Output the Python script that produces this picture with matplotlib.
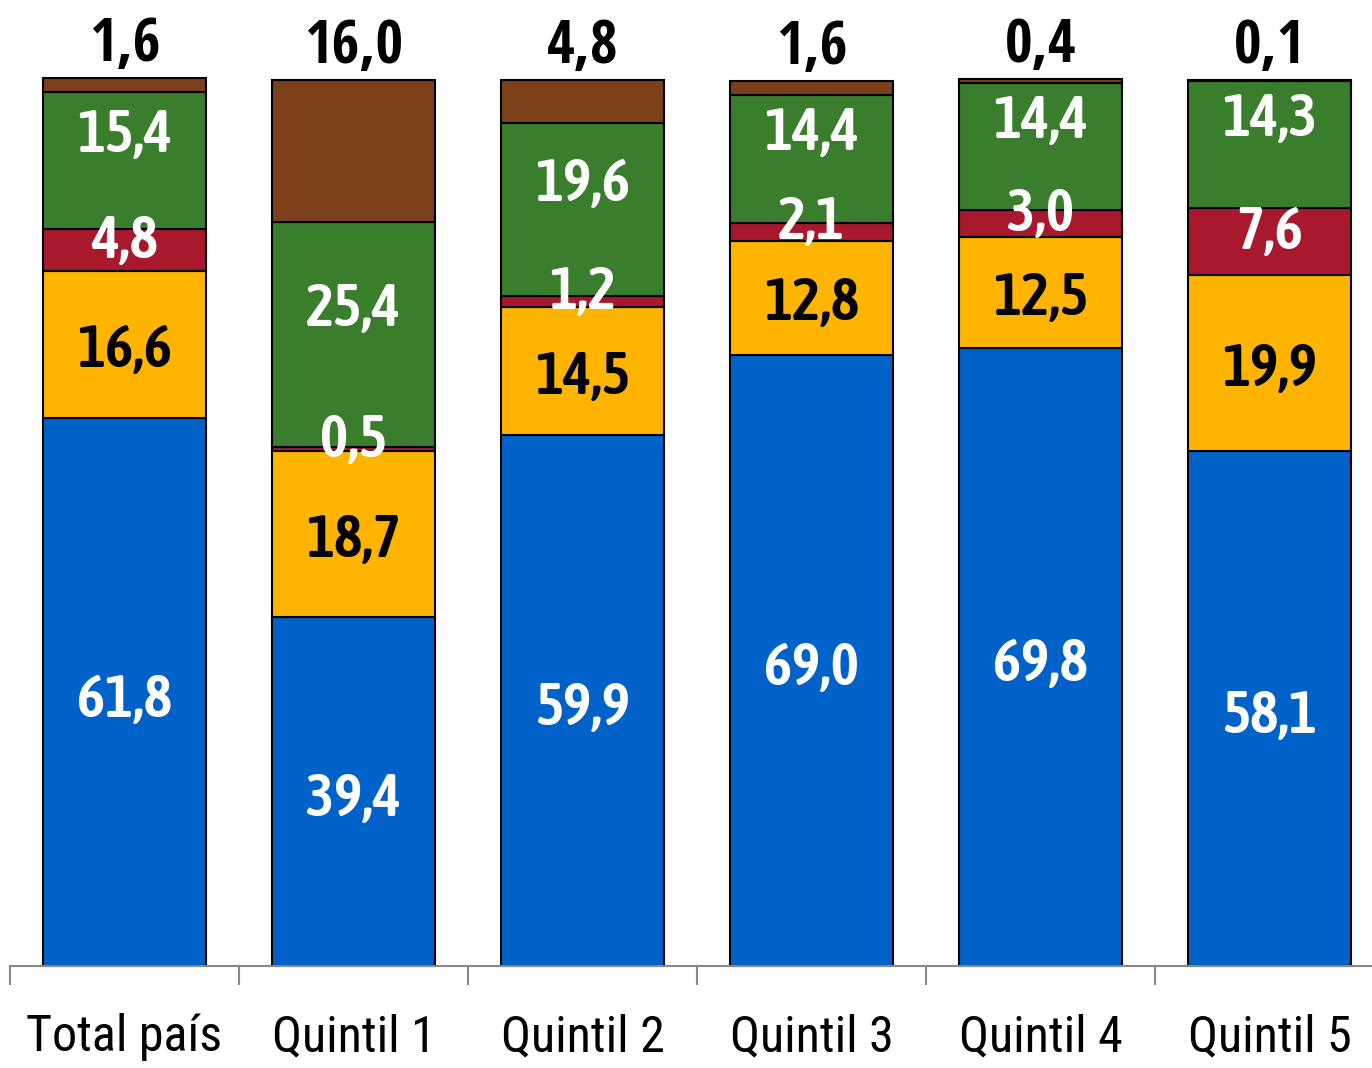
import matplotlib
matplotlib.use("Agg")
import matplotlib.pyplot as plt
from matplotlib import font_manager
from matplotlib.font_manager import FontProperties
import numpy as np

categories = ["Total país", "Quintil 1", "Quintil 2", "Quintil 3", "Quintil 4", "Quintil 5"]
blue = [61.8, 39.4, 59.9, 69.0, 69.8, 58.1]
yellow = [16.6, 18.7, 14.5, 12.8, 12.5, 19.9]
red = [4.8, 0.5, 1.2, 2.1, 3.0, 7.6]
green = [15.4, 25.4, 19.6, 14.4, 14.4, 14.3]
brown = [1.6, 16.0, 4.8, 1.6, 0.4, 0.1]

series = [blue, yellow, red, green, brown]
colors = ["#0062C8", "#FFB400", "#A8192E", "#3A7D2C", "#7B3F1A"]
label_colors = ["white", "black", "white", "white", "black"]
label_dy = [-8, -6, 9, 25, 0]  # pixel upward shift for inside labels

# ---- condensed font selection ----
COND = {"ultra-condensed", "extra-condensed", "condensed", "semi-condensed"}
entries = font_manager.fontManager.ttflist


def is_cond(f):
    s = f.stretch
    if isinstance(s, str):
        if s in COND:
            return True
    else:
        try:
            if float(s) < 100:
                return True
        except Exception:
            pass
    return ("Condensed" in f.name or "Narrow" in f.name
            or "Condensed" in f.fname or "Narrow" in f.fname)


def wnum(w):
    if isinstance(w, (int, float)):
        return float(w)
    return float(font_manager.weight_dict.get(w, 400))


cands = [f for f in entries if is_cond(f) and f.style == "normal"
         and "Mono" not in f.name and "Serif" not in f.name]
pref_order = ["Open Sans", "Noto Sans", "Roboto", "Liberation", "Lato", "Inter", "DejaVu"]


def rank(f):
    for i, p in enumerate(pref_order):
        if f.name.startswith(p):
            return i
    return len(pref_order)


def pick(weight, size):
    if not cands:
        return FontProperties(family="DejaVu Sans", stretch="condensed", weight=weight, size=size)
    best = min(cands, key=lambda f: (abs(wnum(f.weight) - weight), rank(f),
                                     0 if str(f.stretch) == "condensed" else 1))
    return FontProperties(fname=best.fname, size=size)


fp_inside = pick(600, 43)
fp_top = pick(700, 43)
fp_tick = pick(400, 36)

fig = plt.figure(figsize=(13.72, 10.68), dpi=100)
ax = fig.add_axes([10 / 1372, 102 / 1068, 1374 / 1372, 886 / 1068])
x = np.arange(len(categories))
bottom = np.zeros(len(categories))
width = 0.716
for i, (vals, c) in enumerate(zip(series, colors)):
    vals = np.array(vals)
    ax.bar(x, vals, width, bottom=bottom, color=c, edgecolor="black",
           linewidth=1.5, clip_on=False, zorder=2)
    if i < 4:
        for xi, b, v in zip(x, bottom, vals):
            ax.annotate(f"{v:.1f}".replace(".", ","), (xi, b + v / 2),
                        xytext=(0, label_dy[i] * 0.72), textcoords="offset points",
                        ha="center", va="center", color=label_colors[i],
                        fontproperties=fp_inside, zorder=5, annotation_clip=False)
    else:
        for xi, b, v in zip(x, bottom, vals):
            ax.annotate(f"{v:.1f}".replace(".", ","), (xi, b + v),
                        xytext=(0, 2), textcoords="offset points",
                        ha="center", va="bottom", color="black",
                        fontproperties=fp_top, zorder=5, annotation_clip=False)
    bottom += vals

ax.set_xlim(-0.5, 5.5)
ax.set_ylim(0, 100)
for s in ["top", "right", "left"]:
    ax.spines[s].set_visible(False)
ax.spines["bottom"].set_color("#888888")
ax.spines["bottom"].set_linewidth(1.5)
ax.set_yticks([])
ax.set_xticks(x)
ax.set_xticklabels(categories, fontproperties=fp_tick)
ax.tick_params(axis="x", which="major", length=0, pad=34)
ax.set_xticks(np.arange(-0.5, 6.0, 1.0), minor=True)
ax.tick_params(axis="x", which="minor", length=14, width=1.5, color="#888888", direction="out")

fig.savefig("out.png", dpi=100)
